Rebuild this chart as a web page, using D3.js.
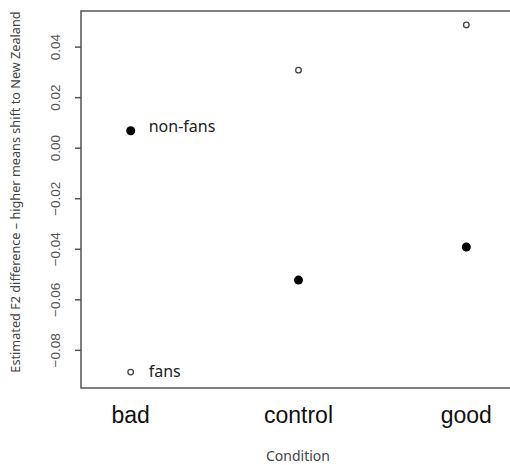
<!DOCTYPE html>
<html>
<head>
	<meta charset="utf-8">
	<title>F2 difference by condition</title>
	<style>
		body { margin: 0; background: #fff; }
		svg { display: block; }
		.tick-label { font-family: 'Liberation Sans', Arial, sans-serif; font-size: 13.5px; fill: #555; }
		.cat-label { font-family: 'Liberation Sans', Arial, sans-serif; font-size: 23px; fill: #111; }
		.axis-title { font-family: 'Noto Sans', sans-serif; fill: #444; }
		.note { font-family: 'Noto Sans', sans-serif; font-size: 16px; fill: #222; }
	</style>
</head>
<body>
	<svg width="510" height="465"></svg>
<script src="https://d3js.org/d3.v7.min.js"></script>
<script>

	// data
	const conditions = ['bad', 'control', 'good'];
	const fans = [-0.0888, 0.0307, 0.0486];
	const nonFans = [0.0067, -0.0524, -0.0393];
	const yTicks = [-0.08, -0.06, -0.04, -0.02, 0.00, 0.02, 0.04];

	const width = 510,
	    height = 465;

	// plot box (the right side runs off the picture)
	const boxLeft = 81, boxRight = 516, boxTop = 11, boxBottom = 388;

	const svg = d3.select('svg');

	const x = d3.scaleLinear()
		.domain([0.704, 3.296])
		.range([boxLeft, boxRight]);

	const y = d3.scaleLinear()
		.domain([-0.0951, 0.0541])
		.range([boxBottom, boxTop]);

	// box
	svg.append('rect')
		.attr('x', boxLeft)
		.attr('y', boxTop)
		.attr('width', boxRight - boxLeft)
		.attr('height', boxBottom - boxTop)
		.attr('fill', 'none')
		.attr('stroke', '#555')
		.attr('stroke-width', 1.5);

	// y axis ticks
	let yAxis = svg.append('g')
		.attr('transform', `translate(${boxLeft},0)`)
		.call(d3.axisLeft(y).tickValues(yTicks).tickSize(6).tickFormat(d3.format('.2f')));

	yAxis.select('.domain').remove();
	yAxis.selectAll('line').attr('stroke', '#555').attr('stroke-width', 1.5);
	yAxis.selectAll('text')
		.attr('class', 'tick-label')
		.attr('x', null).attr('dy', null)
		.attr('text-anchor', 'middle')
		.attr('transform', d => `translate(${-26},0) rotate(-90) translate(0,5)`);

	// category labels
	svg.selectAll('.cat-label')
		.data(conditions)
		.join('text')
		.attr('class', 'cat-label')
		.attr('x', (d, i) => x(i + 1))
		.attr('y', 423)
		.attr('text-anchor', 'middle')
		.text(d => d);

	// points
	svg.selectAll('.nonfan')
		.data(nonFans)
		.join('circle')
		.attr('class', 'nonfan')
		.attr('cx', (d, i) => x(i + 1))
		.attr('cy', d => y(d))
		.attr('r', 4.5)
		.attr('fill', '#000');

	svg.selectAll('.fan')
		.data(fans)
		.join('circle')
		.attr('class', 'fan')
		.attr('cx', (d, i) => x(i + 1))
		.attr('cy', d => y(d))
		.attr('r', 2.8)
		.attr('fill', 'none')
		.attr('stroke', '#444')
		.attr('stroke-width', 1.3);

	// labels next to the 'bad' points
	svg.append('text')
		.attr('class', 'note')
		.attr('x', x(1) + 18)
		.attr('y', y(nonFans[0]) + 1)
		.text('non-fans');

	svg.append('text')
		.attr('class', 'note')
		.attr('x', x(1) + 18)
		.attr('y', y(fans[0]) + 5)
		.text('fans');

	// axis titles
	svg.append('text')
		.attr('class', 'axis-title')
		.attr('x', 298)
		.attr('y', 461)
		.attr('text-anchor', 'middle')
		.style('font-size', '14px')
		.text('Condition');

	svg.append('text')
		.attr('class', 'axis-title')
		.attr('transform', 'translate(20,192) rotate(-90)')
		.attr('text-anchor', 'middle')
		.style('font-size', '12.7px')
		.text('Estimated F2 difference \u2013 higher means shift to New Zealand');

</script>
</body>
</html>
